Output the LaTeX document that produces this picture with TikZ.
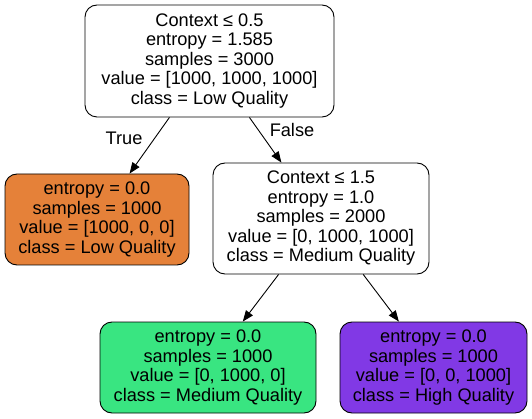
\documentclass[tikz,border=0pt]{standalone}
\usepackage{fontspec}
\setmainfont{Liberation Sans}
\usetikzlibrary{arrows.meta}
\definecolor{lowq}{HTML}{E58139}
\definecolor{medq}{HTML}{39E581}
\definecolor{highq}{HTML}{8139E5}

\begin{document}
\begin{tikzpicture}[x=1pt,y=-1pt,
  treenode/.style={draw, black, line width=0.9pt, rounded corners=12pt, align=center,
    inner sep=0pt, font=\fontsize{18.2}{19.5}\selectfont},
  edge/.style={-{Triangle[length=11pt,width=8.5pt]}, line width=0.9pt, black}]
\useasboundingbox (0,0) rectangle (532,419);
\node [treenode, fill=white, minimum width=249pt, minimum height=112pt] (root) at (209.5,61)
  {Context ≤ 0.5\\entropy = 1.585\\samples = 3000\\value = [1000, 1000, 1000]\\class = Low Quality};
\node [treenode, fill=lowq, minimum width=184pt, minimum height=91pt] (low) at (97,219.5)
  {entropy = 0.0\\samples = 1000\\value = [1000, 0, 0]\\class = Low Quality};
\node [treenode, fill=white, minimum width=216pt, minimum height=111pt] (split) at (321,218.5)
  {Context ≤ 1.5\\entropy = 1.0\\samples = 2000\\value = [0, 1000, 1000]\\class = Medium Quality};
\node [treenode, fill=medq, minimum width=216pt, minimum height=91pt] (medium) at (208,367.5)
  {entropy = 0.0\\samples = 1000\\value = [0, 1000, 0]\\class = Medium Quality};
\node [treenode, fill=highq, minimum width=187pt, minimum height=91pt] (high) at (433.5,367.5)
  {entropy = 0.0\\samples = 1000\\value = [0, 0, 1000]\\class = High Quality};
\draw [edge] (root) -- (low);
\draw [edge] (root) -- (split);
\draw [edge] (split) -- (medium);
\draw [edge] (split) -- (high);
\node [font=\fontsize{18.2}{19.5}\selectfont] (truelabel) at (124,138) {True};
\node [font=\fontsize{18.2}{19.5}\selectfont] (falselabel) at (292,130) {False};
\end{tikzpicture}
\end{document}
